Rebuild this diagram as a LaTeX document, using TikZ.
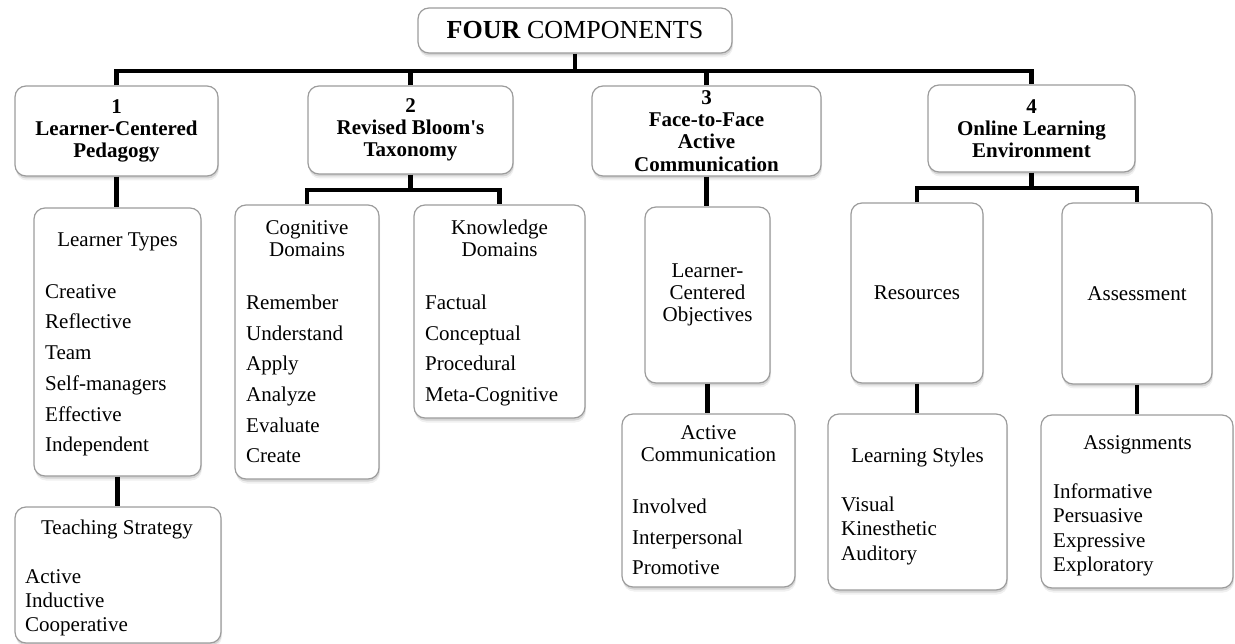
\documentclass[tikz,border=0pt]{standalone}
\usepackage{fontspec}
\setmainfont{Liberation Serif}
\usetikzlibrary{shadows}
\definecolor{boxgray}{HTML}{9C9C9C}
\newcommand\mylist[5]{\foreach \t [count=\i] in {#5} \node[itm] (#1-\i) at (#2,{#3+(\i-1)*#4}) {\t};}
\begin{document}
\begin{tikzpicture}[x=1pt,y=-1pt,
  box/.style={draw=boxgray, line width=1.2pt, rounded corners=11pt, fill=white,
    drop shadow={shadow xshift=1pt, shadow yshift=-4.5pt, opacity=0.12},
    drop shadow={shadow xshift=0.6pt, shadow yshift=-2.5pt, opacity=0.25}, inner sep=0pt},
  hdr/.style={box, font=\bfseries\fontsize{21}{22.3}\selectfont, align=center},
  plain/.style={box, font=\fontsize{21}{22.3}\selectfont, align=center},
  conn/.style={line width=4.8pt, black},
  ttl/.style={font=\fontsize{21}{22}\selectfont, anchor=base, inner sep=0pt},
  itm/.style={font=\fontsize{21}{22}\selectfont, anchor=base west, inner sep=0pt}]
\useasboundingbox (0,0) rectangle (1235,644);
% top
\node[box, minimum width=314pt, minimum height=45pt, font=\fontsize{26}{30}\selectfont] (top) at (575,30.5) {\textbf{FOUR} COMPONENTS};
% level 1
\node[hdr, minimum width=203pt, minimum height=90pt] (b1) at (116.5,131) {1\\Learner-Centered\\Pedagogy};
\node[hdr, minimum width=205pt, minimum height=88pt] (b2) at (410.5,130) {2\\Revised Bloom\textquotesingle s\\Taxonomy};
\node[hdr, minimum width=229pt, minimum height=90pt] (b3) at (706.5,131) {3\\Face-to-Face\\Active\\Communication};
\node[hdr, minimum width=207pt, minimum height=87pt] (b4) at (1031.5,128.5) {4\\Online Learning\\Environment};
% level 2 / 3 boxes
\node[box, minimum width=167pt, minimum height=268pt] (lt) at (117.5,342) {};
\node[box, minimum width=206pt, minimum height=136pt] (ts) at (118,575) {};
\node[box, minimum width=144pt, minimum height=274pt] (cd) at (307,342) {};
\node[box, minimum width=171pt, minimum height=213pt] (kd) at (499.5,311.5) {};
\node[plain, minimum width=125pt, minimum height=176pt] (lco) at (707.5,295) {Learner-\\Centered\\Objectives};
\node[box, minimum width=173pt, minimum height=173pt] (ac) at (708.5,500.5) {};
\node[plain, minimum width=132pt, minimum height=180pt] (res) at (917,293) {Resources};
\node[plain, minimum width=150pt, minimum height=181pt] (ass) at (1137,293.5) {Assessment};
\node[box, minimum width=179pt, minimum height=176pt] (ls) at (917.5,502) {};
\node[box, minimum width=192pt, minimum height=173pt] (asg) at (1137,501.5) {};
% titles
\node[ttl] (lt-t) at (117.5,247) {Learner Types};
\node[ttl] (ts-t) at (117,534) {Teaching Strategy};
\node[ttl] (cd-t1) at (307,235) {Cognitive};
\node[ttl] (cd-t2) at (307,256.7) {Domains};
\node[ttl] (kd-t1) at (499.5,235) {Knowledge};
\node[ttl] (kd-t2) at (499.5,256.7) {Domains};
\node[ttl] (ac-t1) at (708.5,439.3) {Active};
\node[ttl] (ac-t2) at (708.5,461.7) {Communication};
\node[ttl] (ls-t) at (917.5,462.7) {Learning Styles};
\node[ttl] (asg-t) at (1137.5,449.3) {Assignments};
% lists
\mylist{lti}{45}{298.3}{30.7}{Creative,Reflective,Team,Self-managers,Effective,Independent}
\mylist{tsi}{25}{583.3}{24.2}{Active,Inductive,Cooperative}
\mylist{cdi}{246}{310}{30.5}{Remember,Understand,Apply,Analyze,Evaluate,Create}
\mylist{kdi}{425}{310}{30.5}{Factual,Conceptual,Procedural,Meta-Cognitive}
\mylist{aci}{632}{513.3}{30.8}{Involved,Interpersonal,Promotive}
\mylist{lsi}{841}{511}{24.5}{Visual,Kinesthetic,Auditory}
\mylist{asgi}{1053}{498.3}{24.4}{Informative,Persuasive,Expressive,Exploratory}
% connectors
\coordinate (bar) at (0,71);
\coordinate (bar2) at (0,190);
\coordinate (bar4) at (0,188);
\draw[conn] (top.south) -- (top.south |- bar);
\draw[conn] (b1.north) -- (b1.north |- bar) -| (b4.north);
\draw[conn] (b2.north) -- (b2.north |- bar);
\draw[conn] (b3.north) -- (b3.north |- bar);
\draw[conn] (b2.south) -- (b2.south |- bar2);
\draw[conn] (cd.north) -- (cd.north |- bar2) -| (kd.north);
\draw[conn] (b4.south) -- (b4.south |- bar4);
\draw[conn] (res.north) -- (res.north |- bar4) -| (ass.north);
\draw[conn] (b1.south) -- (b1.south |- lt.north);
\draw[conn] (lt.south) -- (lt.south |- ts.north);
\draw[conn] (b3.south) -- (b3.south |- lco.north);
\draw[conn] (lco.south) -- (lco.south |- ac.north);
\draw[conn] (res.south) -- (res.south |- ls.north);
\draw[conn] (ass.south) -- (ass.south |- asg.north);
\end{tikzpicture}
\end{document}
